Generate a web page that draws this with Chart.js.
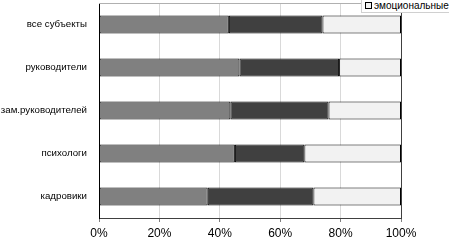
<!DOCTYPE html>
<html>
<head>
<meta charset="utf-8">
<script src="https://cdn.jsdelivr.net/npm/chart.js@4"></script>
<style>
  body { margin: 0; background: #fff; overflow: hidden; }
  #wrap { position: relative; width: 449px; height: 240px; overflow: hidden; }
  #legend {
    position: absolute; left: 361px; top: -2px; width: 100px; height: 13px;
    background: #fff; border: 1px solid #d0d0d0; white-space: nowrap;
    font: 10px "Liberation Sans", Arial, sans-serif; color: #000; line-height: 13px;
  }
  #legend span.box {
    display: inline-block; width: 5px; height: 5px; border: 1px solid #000;
    background: #f2f2f2; margin: 0 2px 0 3px;
  }
</style>
</head>
<body>
<div id="wrap">
  <canvas id="chart" width="449" height="240"></canvas>
  <div id="legend"><span class="box"></span>эмоциональные</div>
</div>
<script>
const categories = ['все субъекты', 'руководители', 'зам.руководителей', 'психологи', 'кадровики'];
const first = [43, 46.5, 43.5, 45, 36];
const second = [31, 33, 32.5, 23, 35];
const emotional = [26, 20.5, 24, 32, 29];
const xTicks = [0, 20, 40, 60, 80, 100];

const font = { family: '"Liberation Sans", Arial, sans-serif', size: 9.7 };

const ctx = document.getElementById('chart').getContext('2d');
new Chart(ctx, {
  type: 'bar',
  data: {
    labels: categories,
    datasets: [
      { label: 'когнитивные', data: first, backgroundColor: '#808080' },
      { label: 'поведенческие', data: second, backgroundColor: '#404040' },
      { label: 'эмоциональные', data: emotional, backgroundColor: '#f2f2f2' }
    ].map(d => Object.assign(d, {
      borderColor: '#000',
      borderWidth: 1,
      borderSkipped: false,
      barPercentage: 0.42,
      categoryPercentage: 1
    }))
  },
  options: {
    indexAxis: 'y',
    responsive: false,
    animation: false,
    layout: { padding: { top: 3, right: 48, left: 0, bottom: 0 } },
    plugins: { legend: { display: false }, tooltip: { enabled: false } },
    scales: {
      x: {
        stacked: true,
        min: 0,
        max: 100,
        afterBuildTicks: axis => { axis.ticks = xTicks.map(v => ({ value: v })); },
        afterFit: axis => { axis.height = 22; },
        ticks: { callback: v => v + '%', color: '#000', font: { family: font.family, size: 12 }, padding: 4 },
        grid: { color: ctx => ctx.tick.value === 100 ? '#404040' : '#d9d9d9', tickLength: 4, drawTicks: true, tickColor: '#808080' },
        border: { color: '#404040' }
      },
      y: {
        stacked: true,
        afterFit: axis => { axis.width = 99; axis.paddingTop = 0; axis.paddingBottom = 0; },
        ticks: { color: '#000', font, padding: 4 },
        grid: { display: false },
        border: { color: '#000' }
      }
    }
  },
  plugins: [{
    id: 'topLine',
    afterDraw(chart) {
      const a = chart.chartArea, c = chart.ctx;
      c.save();
      c.strokeStyle = '#b0b0b0';
      c.lineWidth = 1;
      c.beginPath();
      c.moveTo(a.left, a.top + 0.5);
      c.lineTo(a.right, a.top + 0.5);
      c.stroke();
      c.restore();
    }
  }]
});
</script>
</body>
</html>
